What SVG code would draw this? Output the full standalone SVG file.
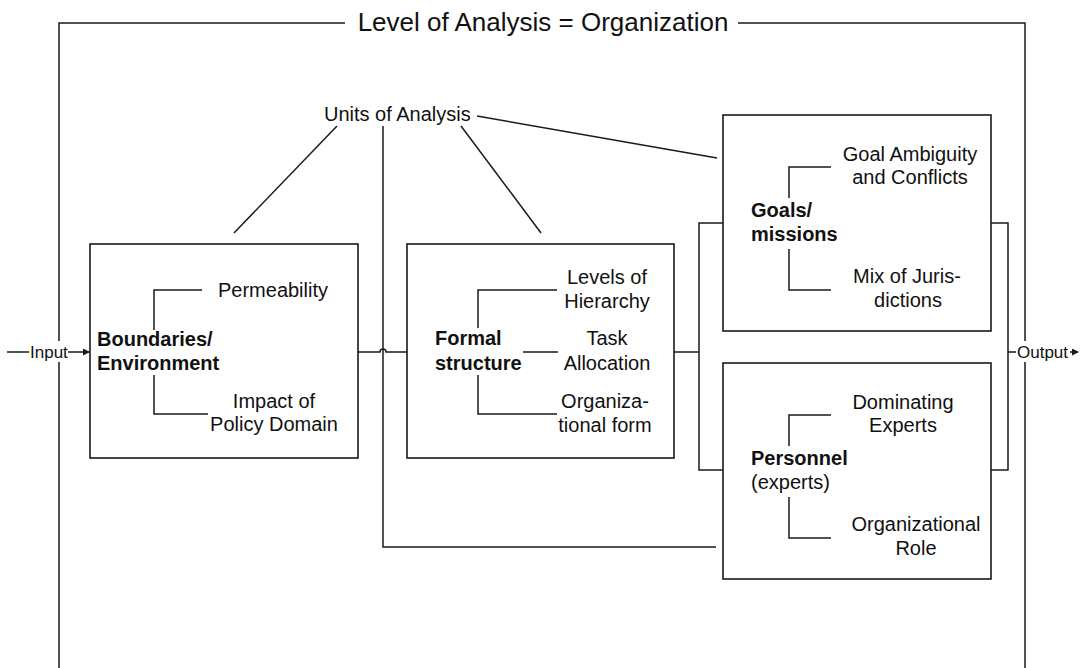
<svg xmlns="http://www.w3.org/2000/svg" width="1085" height="668" viewBox="0 0 1085 668">
<defs>
<style>
.ln{fill:none;stroke:#1a1a1a;stroke-width:1.5}
.box{fill:#fff;stroke:#1a1a1a;stroke-width:1.6}
text{font-family:"Liberation Sans",Arial,sans-serif;font-size:20px;fill:#111}
.b{font-weight:bold}
.c{text-anchor:middle}
.io{font-size:17px}
</style>
<marker id="ah" markerWidth="7" markerHeight="7" refX="6" refY="3.5" orient="auto" markerUnits="userSpaceOnUse">
<path d="M0,0 L7,3.5 L0,7 Z" fill="#1a1a1a"/>
</marker>
</defs>
<rect width="1085" height="668" fill="#fff"/>

<g id="frame">
<path class="ln" d="M345,23 H59 V341 M59,362 V668"/>
<path class="ln" d="M738,23 H1025 V341 M1025,362 V668"/>
<text x="543" y="31" class="c" style="font-size:26px">Level of Analysis = Organization</text>
</g>

<g id="connectors">
<path class="ln" d="M7,352 H29"/>
<path class="ln" d="M68,352 H89" marker-end="url(#ah)"/>
<path class="ln" d="M358,352 H380 A3,3 0 0 1 386,352 H407"/>
<path class="ln" d="M337,126 L234,233"/>
<path class="ln" d="M383,126 V547 H716"/>
<path class="ln" d="M461,126 L541,233"/>
<path class="ln" d="M477,116 L717,158"/>
<path class="ln" d="M674,352 H699"/>
<path class="ln" d="M723,223 H699 V470 H723"/>
<path class="ln" d="M991,223 H1008 V470 H991"/>
<path class="ln" d="M1008,352 H1016"/>
<path class="ln" d="M1070,352 H1078" marker-end="url(#ah)"/>
</g>

<g id="input"><text x="30" y="358" class="io">Input</text></g>
<g id="output"><text x="1017" y="358" class="io">Output</text></g>

<g id="units"><text x="324" y="121">Units of Analysis</text></g>

<g id="boundaries">
<rect class="box" x="90" y="244" width="268" height="214"/>
<path class="ln" d="M202,290 H154 V330 M154,375 V414 H208"/>
<text x="97" y="346" class="b">Boundaries/</text>
<text x="97" y="370" class="b">Environment</text>
<text x="273" y="297" class="c">Permeability</text>
<text x="274" y="408" class="c">Impact of</text>
<text x="274" y="431" class="c">Policy Domain</text>
</g>

<g id="formal">
<rect class="box" x="407" y="244" width="267" height="214"/>
<path class="ln" d="M557,290 H478 V328 M478,375 V414 H557 M523,352 H558"/>
<text x="435" y="345" class="b">Formal</text>
<text x="435" y="370" class="b">structure</text>
<text x="607" y="284" class="c">Levels of</text>
<text x="607" y="308" class="c">Hierarchy</text>
<text x="607" y="345" class="c">Task</text>
<text x="607" y="370" class="c">Allocation</text>
<text x="605" y="408" class="c">Organiza-</text>
<text x="605" y="432" class="c">tional form</text>
</g>

<g id="goals">
<rect class="box" x="723" y="115" width="268" height="216"/>
<path class="ln" d="M831,167 H789 V198 M789,249 V290 H831"/>
<text x="751" y="217" class="b">Goals/</text>
<text x="751" y="241" class="b">missions</text>
<text x="910" y="161" class="c">Goal Ambiguity</text>
<text x="910" y="184" class="c">and Conflicts</text>
<text x="907" y="283" class="c">Mix of Juris-</text>
<text x="908" y="307" class="c">dictions</text>
</g>

<g id="personnel">
<rect class="box" x="723" y="363" width="268" height="216"/>
<path class="ln" d="M831,415 H789 V446 M789,497 V538 H831"/>
<text x="751" y="465" class="b">Personnel</text>
<text x="751" y="489">(experts)</text>
<text x="903" y="409" class="c">Dominating</text>
<text x="903" y="432" class="c">Experts</text>
<text x="916" y="531" class="c">Organizational</text>
<text x="916" y="555" class="c">Role</text>
</g>
</svg>
